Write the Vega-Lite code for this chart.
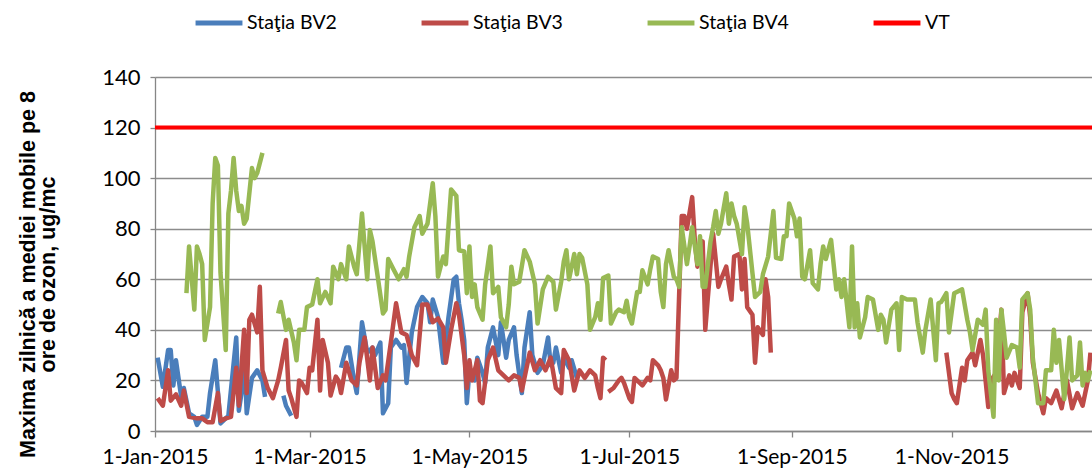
{
  "$schema": "https://vega.github.io/schema/vega-lite/v6.json",
  "width": 937,
  "height": 354,
  "autosize": {"type": "none"},
  "padding": {"left": 155, "top": 77, "right": 0, "bottom": 39},
  "background": "white",
  "config": {
    "view": {"stroke": null},
    "font": "Lato",
    "axis": {"labelFont": "Lato", "labelColor": "#000000", "labelFontSize": 22, "domainColor": "#868686", "tickColor": "#868686", "domainWidth": 1.3, "tickWidth": 1.3}
  },
  "encoding": {
    "x": {
      "field": "d", "type": "temporal",
      "scale": {"type": "utc", "domain": [{"year": 2015, "month": 1, "date": 1, "utc": true}, {"year": 2015, "month": 12, "date": 24, "hours": 14, "utc": true}]},
      "axis": {
        "title": null, "grid": false, "format": "%-d-%b-%Y", "tickSize": 6, "labelPadding": 9, "labelFontSize": 21, "labelFlush": false,
        "values": [{"year": 2015, "month": 1, "date": 1, "utc": true}, {"year": 2015, "month": 3, "date": 1, "utc": true}, {"year": 2015, "month": 5, "date": 1, "utc": true}, {"year": 2015, "month": 7, "date": 1, "utc": true}, {"year": 2015, "month": 9, "date": 1, "utc": true}, {"year": 2015, "month": 11, "date": 1, "utc": true}]
      }
    },
    "y": {
      "field": "v", "type": "quantitative",
      "scale": {"domain": [0, 140], "nice": false},
      "axis": {
        "values": [0, 20, 40, 60, 80, 100, 120, 140], "grid": true, "gridColor": "#8c8c8c", "gridWidth": 1.3, "tickSize": 5, "labelPadding": 10,
        "title": ["Maxima zilnică a mediei mobile pe 8", "ore de ozon, ug/mc"],
        "titleFont": "Liberation Sans", "titleFontWeight": "bold", "titleFontSize": 21.5, "titleColor": "#000000",
        "titleAngle": -90, "titleX": -127, "titleY": 197, "titleAlign": "center", "titleBaseline": "middle", "titleLineHeight": 20
      }
    }
  },
  "layer": [
    {
      "data": {"values": [
        {"d":"2015-01-02","g":1,"v":29},{"d":"2015-01-04","g":1,"v":17.5},{"d":"2015-01-06","g":1,"v":32},{"d":"2015-01-07","g":1,"v":32},{"d":"2015-01-08","g":1,"v":18},{"d":"2015-01-09","g":1,"v":28},{"d":"2015-01-11","g":1,"v":13.5},{"d":"2015-01-12","g":1,"v":17},{"d":"2015-01-14","g":1,"v":7},{"d":"2015-01-16","g":1,"v":5.6},{"d":"2015-01-17","g":1,"v":2.4},{"d":"2015-01-19","g":1,"v":5.6},{"d":"2015-01-21","g":1,"v":5.6},{"d":"2015-01-22","g":1,"v":15},{"d":"2015-01-24","g":1,"v":28},{"d":"2015-01-26","g":1,"v":3},{"d":"2015-01-28","g":1,"v":5},{"d":"2015-01-29","g":1,"v":6},{"d":"2015-02-01","g":1,"v":37},{"d":"2015-02-02","g":1,"v":8},{"d":"2015-02-03","g":1,"v":15},{"d":"2015-02-04","g":1,"v":33},{"d":"2015-02-05","g":1,"v":7},{"d":"2015-02-07","g":1,"v":21},{"d":"2015-02-09","g":1,"v":24},{"d":"2015-02-11","g":1,"v":20},{"d":"2015-02-12","g":1,"v":13.5},
        {"d":"2015-02-19","g":2,"v":14},{"d":"2015-02-20","g":2,"v":10},{"d":"2015-02-22","g":2,"v":6},
        {"d":"2015-03-13","g":3,"v":25},{"d":"2015-03-15","g":3,"v":33},{"d":"2015-03-16","g":3,"v":33},{"d":"2015-03-18","g":3,"v":20},{"d":"2015-03-19","g":3,"v":15},{"d":"2015-03-21","g":3,"v":43},{"d":"2015-03-23","g":3,"v":31},{"d":"2015-03-25","g":3,"v":33},{"d":"2015-03-26","g":3,"v":30},{"d":"2015-03-28","g":3,"v":35},{"d":"2015-03-29","g":3,"v":7},{"d":"2015-03-31","g":3,"v":11},{"d":"2015-04-01","g":3,"v":33},{"d":"2015-04-03","g":3,"v":36},{"d":"2015-04-05","g":3,"v":33},{"d":"2015-04-06","g":3,"v":34},{"d":"2015-04-07","g":3,"v":19},{"d":"2015-04-09","g":3,"v":39},{"d":"2015-04-11","g":3,"v":49},{"d":"2015-04-13","g":3,"v":53},{"d":"2015-04-15","g":3,"v":50.5},{"d":"2015-04-16","g":3,"v":43},{"d":"2015-04-17","g":3,"v":52},{"d":"2015-04-19","g":3,"v":45},{"d":"2015-04-21","g":3,"v":27},{"d":"2015-04-23","g":3,"v":45},{"d":"2015-04-25","g":3,"v":60},{"d":"2015-04-26","g":3,"v":61},{"d":"2015-04-27","g":3,"v":50.5},{"d":"2015-04-28","g":3,"v":44},{"d":"2015-04-29","g":3,"v":36},{"d":"2015-04-30","g":3,"v":11},{"d":"2015-05-01","g":3,"v":24},{"d":"2015-05-03","g":3,"v":20},{"d":"2015-05-04","g":3,"v":29},{"d":"2015-05-06","g":3,"v":23},{"d":"2015-05-07","g":3,"v":19},{"d":"2015-05-08","g":3,"v":33},{"d":"2015-05-10","g":3,"v":41},{"d":"2015-05-12","g":3,"v":30},{"d":"2015-05-13","g":3,"v":43},{"d":"2015-05-15","g":3,"v":29},{"d":"2015-05-16","g":3,"v":36},{"d":"2015-05-18","g":3,"v":41},{"d":"2015-05-19","g":3,"v":30},{"d":"2015-05-21","g":3,"v":15},{"d":"2015-05-22","g":3,"v":33},{"d":"2015-05-24","g":3,"v":47},{"d":"2015-05-25","g":3,"v":30},{"d":"2015-05-27","g":3,"v":23},{"d":"2015-05-29","g":3,"v":26},{"d":"2015-05-31","g":3,"v":37},{"d":"2015-06-01","g":3,"v":26},{"d":"2015-06-02","g":3,"v":27},{"d":"2015-06-03","g":3,"v":33},{"d":"2015-06-05","g":3,"v":23},{"d":"2015-06-06","g":3,"v":29},{"d":"2015-06-08","g":3,"v":25},{"d":"2015-06-09","g":3,"v":28},{"d":"2015-06-11","g":3,"v":21}
      ]},
      "mark": {"type": "line", "strokeWidth": 4.5, "clip": true, "strokeJoin": "round"},
      "encoding": {
        "detail": {"field": "g", "type": "nominal"},
        "color": {"datum": "Staţia BV2", "type": "nominal",
          "scale": {"domain": ["Staţia BV2", "Staţia BV3", "Staţia BV4", "VT"], "range": ["#4a7ebb", "#be4b48", "#98b954", "#ff0000"]},
          "legend": {"title": null, "orient": "none", "legendX": 38, "legendY": -80, "direction": "horizontal", "symbolType": "stroke", "symbolStrokeWidth": 5, "symbolSize": 2200, "labelFontSize": 19.5, "labelFont": "Lato", "labelColor": "#000000", "labelOffset": 2, "columnPadding": 74}
        }
      }
    },
    {
      "data": {"values": [
        {"d":"2015-01-02","g":1,"v":13},{"d":"2015-01-04","g":1,"v":10},{"d":"2015-01-06","g":1,"v":24},{"d":"2015-01-07","g":1,"v":12},{"d":"2015-01-09","g":1,"v":14.5},{"d":"2015-01-11","g":1,"v":10},{"d":"2015-01-12","g":1,"v":16},{"d":"2015-01-14","g":1,"v":5.6},{"d":"2015-01-17","g":1,"v":5},{"d":"2015-01-19","g":1,"v":5},{"d":"2015-01-21","g":1,"v":3.5},{"d":"2015-01-23","g":1,"v":3.5},{"d":"2015-01-25","g":1,"v":15},{"d":"2015-01-26","g":1,"v":4},{"d":"2015-01-28","g":1,"v":5},{"d":"2015-01-30","g":1,"v":5.6},{"d":"2015-02-01","g":1,"v":25},{"d":"2015-02-02","g":1,"v":10},{"d":"2015-02-04","g":1,"v":40},{"d":"2015-02-05","g":1,"v":15},{"d":"2015-02-06","g":1,"v":44},{"d":"2015-02-07","g":1,"v":46},{"d":"2015-02-09","g":1,"v":39},{"d":"2015-02-10","g":1,"v":57},{"d":"2015-02-11","g":1,"v":24},{"d":"2015-02-13","g":1,"v":17},{"d":"2015-02-15","g":1,"v":13},{"d":"2015-02-17","g":1,"v":20},{"d":"2015-02-18","g":1,"v":25},{"d":"2015-02-20","g":1,"v":36},{"d":"2015-02-21","g":1,"v":16},{"d":"2015-02-22","g":1,"v":13},{"d":"2015-02-24","g":1,"v":5.6},{"d":"2015-02-25","g":1,"v":20},{"d":"2015-02-26","g":1,"v":19},{"d":"2015-02-28","g":1,"v":15},{"d":"2015-03-01","g":1,"v":25},{"d":"2015-03-02","g":1,"v":24},{"d":"2015-03-04","g":1,"v":44},{"d":"2015-03-05","g":1,"v":16},{"d":"2015-03-06","g":1,"v":36},{"d":"2015-03-08","g":1,"v":27},{"d":"2015-03-09","g":1,"v":14},{"d":"2015-03-11","g":1,"v":21.5},{"d":"2015-03-12","g":1,"v":20},{"d":"2015-03-13","g":1,"v":15},{"d":"2015-03-15","g":1,"v":27},{"d":"2015-03-17","g":1,"v":20},{"d":"2015-03-19","g":1,"v":18},{"d":"2015-03-20","g":1,"v":27},{"d":"2015-03-22","g":1,"v":37},{"d":"2015-03-24","g":1,"v":20},{"d":"2015-03-25","g":1,"v":33},{"d":"2015-03-27","g":1,"v":17},{"d":"2015-03-29","g":1,"v":22},{"d":"2015-03-30","g":1,"v":20},{"d":"2015-04-01","g":1,"v":35},{"d":"2015-04-03","g":1,"v":50.5},{"d":"2015-04-05","g":1,"v":39},{"d":"2015-04-07","g":1,"v":38},{"d":"2015-04-09","g":1,"v":30},{"d":"2015-04-11","g":1,"v":26},{"d":"2015-04-13","g":1,"v":50},{"d":"2015-04-15","g":1,"v":50},{"d":"2015-04-17","g":1,"v":43},{"d":"2015-04-19","g":1,"v":44.5},{"d":"2015-04-21","g":1,"v":41},{"d":"2015-04-22","g":1,"v":27},{"d":"2015-04-24","g":1,"v":40},{"d":"2015-04-26","g":1,"v":50.5},{"d":"2015-04-27","g":1,"v":46},{"d":"2015-04-29","g":1,"v":30},{"d":"2015-04-30","g":1,"v":17},{"d":"2015-05-01","g":1,"v":28},{"d":"2015-05-02","g":1,"v":20},{"d":"2015-05-04","g":1,"v":28},{"d":"2015-05-05","g":1,"v":12},{"d":"2015-05-06","g":1,"v":11},{"d":"2015-05-08","g":1,"v":28},{"d":"2015-05-10","g":1,"v":33},{"d":"2015-05-12","g":1,"v":24},{"d":"2015-05-14","g":1,"v":22},{"d":"2015-05-16","g":1,"v":20},{"d":"2015-05-18","g":1,"v":22},{"d":"2015-05-20","g":1,"v":21},{"d":"2015-05-21","g":1,"v":16},{"d":"2015-05-24","g":1,"v":31},{"d":"2015-05-26","g":1,"v":24},{"d":"2015-05-28","g":1,"v":28},{"d":"2015-05-30","g":1,"v":24},{"d":"2015-06-01","g":1,"v":29},{"d":"2015-06-03","g":1,"v":17},{"d":"2015-06-05","g":1,"v":15},{"d":"2015-06-06","g":1,"v":32},{"d":"2015-06-08","g":1,"v":28},{"d":"2015-06-10","g":1,"v":16},{"d":"2015-06-12","g":1,"v":24},{"d":"2015-06-14","g":1,"v":21},{"d":"2015-06-16","g":1,"v":24},{"d":"2015-06-18","g":1,"v":22},{"d":"2015-06-19","g":1,"v":17},{"d":"2015-06-20","g":1,"v":13},{"d":"2015-06-21","g":1,"v":29},{"d":"2015-06-22","g":1,"v":28},
        {"d":"2015-06-23","g":2,"v":15.5},{"d":"2015-06-25","g":2,"v":17},{"d":"2015-06-27","g":2,"v":20},{"d":"2015-06-28","g":2,"v":21},{"d":"2015-06-29","g":2,"v":19},{"d":"2015-07-01","g":2,"v":13},{"d":"2015-07-02","g":2,"v":11.5},{"d":"2015-07-03","g":2,"v":21},{"d":"2015-07-05","g":2,"v":19},{"d":"2015-07-06","g":2,"v":18},{"d":"2015-07-08","g":2,"v":21},{"d":"2015-07-09","g":2,"v":20},{"d":"2015-07-10","g":2,"v":28},{"d":"2015-07-12","g":2,"v":26},{"d":"2015-07-13","g":2,"v":24},{"d":"2015-07-14","g":2,"v":21},{"d":"2015-07-15","g":2,"v":12.5},{"d":"2015-07-17","g":2,"v":24},{"d":"2015-07-18","g":2,"v":20},{"d":"2015-07-19","g":2,"v":21},{"d":"2015-07-21","g":2,"v":85},{"d":"2015-07-22","g":2,"v":85},{"d":"2015-07-23","g":2,"v":80},{"d":"2015-07-25","g":2,"v":92.5},{"d":"2015-07-26","g":2,"v":75.6},{"d":"2015-07-27","g":2,"v":65},{"d":"2015-07-29","g":2,"v":75},{"d":"2015-07-30","g":2,"v":40},{"d":"2015-07-31","g":2,"v":53},{"d":"2015-08-02","g":2,"v":78},{"d":"2015-08-03","g":2,"v":67.6},{"d":"2015-08-04","g":2,"v":57},{"d":"2015-08-05","g":2,"v":60},{"d":"2015-08-07","g":2,"v":65},{"d":"2015-08-08","g":2,"v":58},{"d":"2015-08-09","g":2,"v":52},{"d":"2015-08-10","g":2,"v":69},{"d":"2015-08-12","g":2,"v":70},{"d":"2015-08-13","g":2,"v":56},{"d":"2015-08-14","g":2,"v":68},{"d":"2015-08-15","g":2,"v":49},{"d":"2015-08-17","g":2,"v":46},{"d":"2015-08-18","g":2,"v":27},{"d":"2015-08-19","g":2,"v":41},{"d":"2015-08-21","g":2,"v":38},{"d":"2015-08-22","g":2,"v":60},{"d":"2015-08-23","g":2,"v":53},{"d":"2015-08-24","g":2,"v":31},
        {"d":"2015-10-30","g":3,"v":31},{"d":"2015-11-01","g":3,"v":15},{"d":"2015-11-02","g":3,"v":12.6},{"d":"2015-11-03","g":3,"v":11},{"d":"2015-11-05","g":3,"v":25},{"d":"2015-11-06","g":3,"v":20},{"d":"2015-11-07","g":3,"v":28},{"d":"2015-11-09","g":3,"v":31},{"d":"2015-11-10","g":3,"v":26},{"d":"2015-11-12","g":3,"v":36},{"d":"2015-11-13","g":3,"v":30},{"d":"2015-11-15","g":3,"v":9.5},{"d":"2015-11-16","g":3,"v":20},{"d":"2015-11-18","g":3,"v":23},{"d":"2015-11-20","g":3,"v":48},{"d":"2015-11-21","g":3,"v":15},{"d":"2015-11-23","g":3,"v":22},{"d":"2015-11-24","g":3,"v":18},{"d":"2015-11-25","g":3,"v":23},{"d":"2015-11-27","g":3,"v":17},{"d":"2015-11-28","g":3,"v":47},{"d":"2015-11-30","g":3,"v":54.5},{"d":"2015-12-01","g":3,"v":45},{"d":"2015-12-02","g":3,"v":27},{"d":"2015-12-04","g":3,"v":15},{"d":"2015-12-06","g":3,"v":7},{"d":"2015-12-07","g":3,"v":13},{"d":"2015-12-09","g":3,"v":11},{"d":"2015-12-11","g":3,"v":16},{"d":"2015-12-13","g":3,"v":9},{"d":"2015-12-15","g":3,"v":20},{"d":"2015-12-17","g":3,"v":9},{"d":"2015-12-19","g":3,"v":15},{"d":"2015-12-21","g":3,"v":10},{"d":"2015-12-23","g":3,"v":20},{"d":"2015-12-24","g":3,"v":31}
      ]},
      "mark": {"type": "line", "strokeWidth": 4.5, "clip": true, "strokeJoin": "round"},
      "encoding": {
        "detail": {"field": "g", "type": "nominal"},
        "color": {"datum": "Staţia BV3", "type": "nominal"}
      }
    },
    {
      "data": {"values": [
        {"d":"2015-01-13","g":1,"v":54.5},{"d":"2015-01-14","g":1,"v":73},{"d":"2015-01-16","g":1,"v":48},{"d":"2015-01-17","g":1,"v":73},{"d":"2015-01-18","g":1,"v":70},{"d":"2015-01-19","g":1,"v":66},{"d":"2015-01-20","g":1,"v":36},{"d":"2015-01-22","g":1,"v":49},{"d":"2015-01-23","g":1,"v":90},{"d":"2015-01-24","g":1,"v":108},{"d":"2015-01-25","g":1,"v":105},{"d":"2015-01-26","g":1,"v":62.5},{"d":"2015-01-28","g":1,"v":32},{"d":"2015-01-29","g":1,"v":86},{"d":"2015-01-30","g":1,"v":95},{"d":"2015-01-31","g":1,"v":108},{"d":"2015-02-01","g":1,"v":95},{"d":"2015-02-02","g":1,"v":87},{"d":"2015-02-03","g":1,"v":89},{"d":"2015-02-04","g":1,"v":82},{"d":"2015-02-05","g":1,"v":84},{"d":"2015-02-07","g":1,"v":104},{"d":"2015-02-08","g":1,"v":100},{"d":"2015-02-09","g":1,"v":102},{"d":"2015-02-11","g":1,"v":110},
        {"d":"2015-02-17","g":2,"v":46.5},{"d":"2015-02-18","g":2,"v":51},{"d":"2015-02-20","g":2,"v":40},{"d":"2015-02-21","g":2,"v":44},{"d":"2015-02-23","g":2,"v":35},{"d":"2015-02-24","g":2,"v":28},{"d":"2015-02-25","g":2,"v":40},{"d":"2015-02-27","g":2,"v":40},{"d":"2015-02-28","g":2,"v":49},{"d":"2015-03-02","g":2,"v":50},{"d":"2015-03-04","g":2,"v":60},{"d":"2015-03-05","g":2,"v":50.5},{"d":"2015-03-07","g":2,"v":55},{"d":"2015-03-09","g":2,"v":50.5},{"d":"2015-03-10","g":2,"v":65},{"d":"2015-03-12","g":2,"v":60},{"d":"2015-03-13","g":2,"v":66},{"d":"2015-03-15","g":2,"v":60},{"d":"2015-03-16","g":2,"v":73},{"d":"2015-03-18","g":2,"v":65},{"d":"2015-03-19","g":2,"v":62},{"d":"2015-03-21","g":2,"v":86},{"d":"2015-03-23","g":2,"v":60},{"d":"2015-03-24","g":2,"v":79.5},{"d":"2015-03-25","g":2,"v":75},{"d":"2015-03-27","g":2,"v":61},{"d":"2015-03-29","g":2,"v":46.5},{"d":"2015-03-30","g":2,"v":48},{"d":"2015-03-31","g":2,"v":68},{"d":"2015-04-02","g":2,"v":64},{"d":"2015-04-04","g":2,"v":60},{"d":"2015-04-06","g":2,"v":64},{"d":"2015-04-07","g":2,"v":61},{"d":"2015-04-08","g":2,"v":69},{"d":"2015-04-10","g":2,"v":80.6},{"d":"2015-04-12","g":2,"v":85},{"d":"2015-04-13","g":2,"v":78},{"d":"2015-04-15","g":2,"v":82},{"d":"2015-04-17","g":2,"v":98},{"d":"2015-04-18","g":2,"v":85},{"d":"2015-04-19","g":2,"v":61},{"d":"2015-04-21","g":2,"v":69},{"d":"2015-04-22","g":2,"v":66},{"d":"2015-04-23","g":2,"v":81},{"d":"2015-04-24","g":2,"v":95.5},{"d":"2015-04-26","g":2,"v":93},{"d":"2015-04-27","g":2,"v":71.5},{"d":"2015-04-29","g":2,"v":71},{"d":"2015-04-30","g":2,"v":54.5},{"d":"2015-05-01","g":2,"v":73},{"d":"2015-05-02","g":2,"v":53},{"d":"2015-05-03","g":2,"v":58},{"d":"2015-05-04","g":2,"v":49},{"d":"2015-05-06","g":2,"v":44},{"d":"2015-05-07","g":2,"v":58},{"d":"2015-05-09","g":2,"v":73},{"d":"2015-05-10","g":2,"v":54.5},{"d":"2015-05-12","g":2,"v":57},{"d":"2015-05-13","g":2,"v":45},{"d":"2015-05-15","g":2,"v":41},{"d":"2015-05-16","g":2,"v":50},{"d":"2015-05-17","g":2,"v":65},{"d":"2015-05-18","g":2,"v":58},{"d":"2015-05-20","g":2,"v":59},{"d":"2015-05-22","g":2,"v":71.5},{"d":"2015-05-24","g":2,"v":67},{"d":"2015-05-26","g":2,"v":58},{"d":"2015-05-27","g":2,"v":42.5},{"d":"2015-05-29","g":2,"v":56},{"d":"2015-05-31","g":2,"v":61},{"d":"2015-06-02","g":2,"v":59},{"d":"2015-06-03","g":2,"v":48},{"d":"2015-06-05","g":2,"v":59},{"d":"2015-06-06","g":2,"v":67},{"d":"2015-06-07","g":2,"v":71.5},{"d":"2015-06-08","g":2,"v":60},{"d":"2015-06-10","g":2,"v":70},{"d":"2015-06-11","g":2,"v":62},{"d":"2015-06-12","g":2,"v":70},{"d":"2015-06-13","g":2,"v":68.5},{"d":"2015-06-15","g":2,"v":58},{"d":"2015-06-16","g":2,"v":40},{"d":"2015-06-18","g":2,"v":45},{"d":"2015-06-19","g":2,"v":50.5},{"d":"2015-06-20","g":2,"v":44},{"d":"2015-06-21","g":2,"v":60.5},{"d":"2015-06-23","g":2,"v":61.5},{"d":"2015-06-24","g":2,"v":42.5},{"d":"2015-06-26","g":2,"v":47},{"d":"2015-06-27","g":2,"v":48},{"d":"2015-06-29","g":2,"v":47},{"d":"2015-06-30","g":2,"v":51.5},{"d":"2015-07-01","g":2,"v":45},{"d":"2015-07-02","g":2,"v":42.5},{"d":"2015-07-04","g":2,"v":55},{"d":"2015-07-05","g":2,"v":55},{"d":"2015-07-06","g":2,"v":63.6},{"d":"2015-07-08","g":2,"v":58},{"d":"2015-07-09","g":2,"v":64},{"d":"2015-07-10","g":2,"v":69},{"d":"2015-07-12","g":2,"v":68},{"d":"2015-07-13","g":2,"v":55},{"d":"2015-07-14","g":2,"v":49},{"d":"2015-07-15","g":2,"v":66},{"d":"2015-07-16","g":2,"v":71.5},{"d":"2015-07-18","g":2,"v":61},{"d":"2015-07-19","g":2,"v":60},{"d":"2015-07-20","g":2,"v":57},{"d":"2015-07-21","g":2,"v":80.6},{"d":"2015-07-23","g":2,"v":66},{"d":"2015-07-24","g":2,"v":73},{"d":"2015-07-25","g":2,"v":80.6},{"d":"2015-07-27","g":2,"v":66},{"d":"2015-07-28","g":2,"v":77},{"d":"2015-07-29","g":2,"v":57},{"d":"2015-07-30","g":2,"v":57},{"d":"2015-08-01","g":2,"v":75},{"d":"2015-08-02","g":2,"v":80.6},{"d":"2015-08-03","g":2,"v":87},{"d":"2015-08-04","g":2,"v":78},{"d":"2015-08-05","g":2,"v":82},{"d":"2015-08-07","g":2,"v":94},{"d":"2015-08-08","g":2,"v":82},{"d":"2015-08-09","g":2,"v":90},{"d":"2015-08-10","g":2,"v":85},{"d":"2015-08-11","g":2,"v":82},{"d":"2015-08-13","g":2,"v":70},{"d":"2015-08-14","g":2,"v":88.5},{"d":"2015-08-15","g":2,"v":82},{"d":"2015-08-17","g":2,"v":62.5},{"d":"2015-08-18","g":2,"v":53},{"d":"2015-08-20","g":2,"v":55},{"d":"2015-08-21","g":2,"v":62},{"d":"2015-08-23","g":2,"v":69},{"d":"2015-08-25","g":2,"v":87},{"d":"2015-08-26","g":2,"v":68.5},{"d":"2015-08-28","g":2,"v":68},{"d":"2015-08-29","g":2,"v":77},{"d":"2015-08-30","g":2,"v":77},{"d":"2015-08-31","g":2,"v":90},{"d":"2015-09-02","g":2,"v":84},{"d":"2015-09-03","g":2,"v":77},{"d":"2015-09-04","g":2,"v":84},{"d":"2015-09-05","g":2,"v":61},{"d":"2015-09-06","g":2,"v":60},{"d":"2015-09-08","g":2,"v":71.5},{"d":"2015-09-09","g":2,"v":58.5},{"d":"2015-09-11","g":2,"v":56},{"d":"2015-09-12","g":2,"v":66},{"d":"2015-09-13","g":2,"v":73},{"d":"2015-09-14","g":2,"v":68},{"d":"2015-09-16","g":2,"v":75.6},{"d":"2015-09-18","g":2,"v":56},{"d":"2015-09-19","g":2,"v":60},{"d":"2015-09-20","g":2,"v":53},{"d":"2015-09-21","g":2,"v":60},{"d":"2015-09-23","g":2,"v":41},{"d":"2015-09-24","g":2,"v":73},{"d":"2015-09-25","g":2,"v":41},{"d":"2015-09-26","g":2,"v":50.5},{"d":"2015-09-27","g":2,"v":37},{"d":"2015-09-29","g":2,"v":45},{"d":"2015-09-30","g":2,"v":53},{"d":"2015-10-02","g":2,"v":52},{"d":"2015-10-04","g":2,"v":40},{"d":"2015-10-05","g":2,"v":46},{"d":"2015-10-06","g":2,"v":44},{"d":"2015-10-07","g":2,"v":35},{"d":"2015-10-09","g":2,"v":48},{"d":"2015-10-11","g":2,"v":50.5},{"d":"2015-10-12","g":2,"v":32},{"d":"2015-10-13","g":2,"v":53},{"d":"2015-10-15","g":2,"v":52},{"d":"2015-10-17","g":2,"v":52},{"d":"2015-10-18","g":2,"v":52},{"d":"2015-10-19","g":2,"v":43},{"d":"2015-10-21","g":2,"v":31},{"d":"2015-10-22","g":2,"v":40},{"d":"2015-10-24","g":2,"v":52},{"d":"2015-10-26","g":2,"v":28},{"d":"2015-10-27","g":2,"v":50.5},{"d":"2015-10-28","g":2,"v":51},{"d":"2015-10-30","g":2,"v":54.5},{"d":"2015-10-31","g":2,"v":39},{"d":"2015-11-02","g":2,"v":54.5},{"d":"2015-11-03","g":2,"v":55},{"d":"2015-11-05","g":2,"v":56},{"d":"2015-11-07","g":2,"v":44},{"d":"2015-11-08","g":2,"v":39},{"d":"2015-11-09","g":2,"v":32},{"d":"2015-11-11","g":2,"v":44},{"d":"2015-11-13","g":2,"v":42},{"d":"2015-11-14","g":2,"v":48},{"d":"2015-11-15","g":2,"v":24},{"d":"2015-11-17","g":2,"v":5.6},{"d":"2015-11-18","g":2,"v":44},{"d":"2015-11-19","g":2,"v":20},{"d":"2015-11-20","g":2,"v":48},{"d":"2015-11-21","g":2,"v":39},{"d":"2015-11-22","g":2,"v":29},{"d":"2015-11-24","g":2,"v":34},{"d":"2015-11-26","g":2,"v":33},{"d":"2015-11-27","g":2,"v":25},{"d":"2015-11-28","g":2,"v":52},{"d":"2015-11-30","g":2,"v":54.5},{"d":"2015-12-01","g":2,"v":48},{"d":"2015-12-02","g":2,"v":29},{"d":"2015-12-04","g":2,"v":11},{"d":"2015-12-06","g":2,"v":11},{"d":"2015-12-07","g":2,"v":24},{"d":"2015-12-09","g":2,"v":24},{"d":"2015-12-10","g":2,"v":40},{"d":"2015-12-11","g":2,"v":27},{"d":"2015-12-12","g":2,"v":36},{"d":"2015-12-14","g":2,"v":12.6},{"d":"2015-12-15","g":2,"v":24},{"d":"2015-12-16","g":2,"v":37},{"d":"2015-12-17","g":2,"v":20},{"d":"2015-12-19","g":2,"v":22},{"d":"2015-12-20","g":2,"v":35},{"d":"2015-12-21","g":2,"v":18},{"d":"2015-12-22","g":2,"v":23},{"d":"2015-12-23","g":2,"v":20},{"d":"2015-12-24","g":2,"v":24}
      ]},
      "mark": {"type": "line", "strokeWidth": 4.5, "clip": true, "strokeJoin": "round"},
      "encoding": {
        "detail": {"field": "g", "type": "nominal"},
        "color": {"datum": "Staţia BV4", "type": "nominal"}
      }
    },
    {
      "data": {"values": [{"d": "2015-01-01", "v": 120}, {"d": "2015-12-31", "v": 120}]},
      "mark": {"type": "line", "strokeWidth": 4, "clip": true},
      "encoding": {
        "color": {"datum": "VT", "type": "nominal"}
      }
    }
  ]
}
